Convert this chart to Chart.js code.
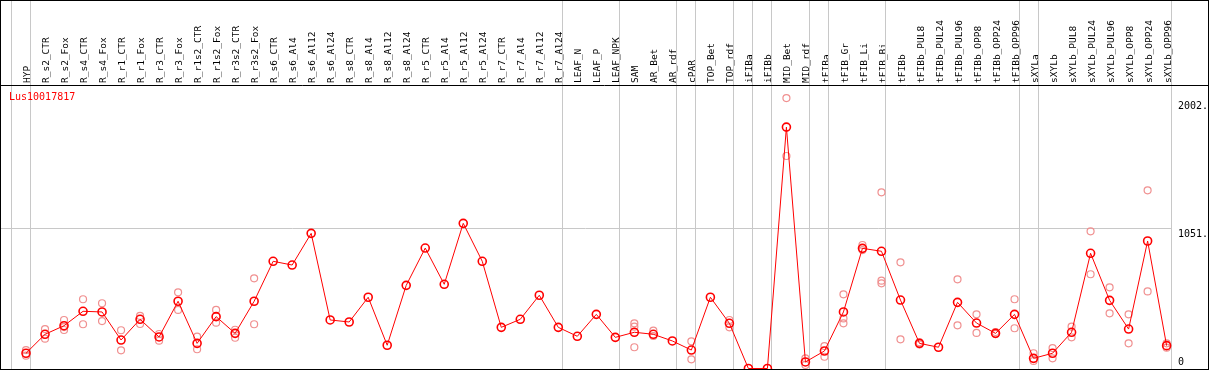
<!DOCTYPE html>
<html>
<head>
<meta charset="utf-8">
<script src="https://cdn.jsdelivr.net/npm/chart.js@4/dist/chart.umd.min.js"></script>
<style>
  html, body { margin: 0; padding: 0; background: #fff; }
  #wrap { width: 1209px; height: 370px; position: relative; }
</style>
</head>
<body>
<div id="wrap"><canvas id="myChart"></canvas></div>
<script>
  const geneName = 'Lus10017817';

  const categories = ['HYP', 'R_s2_CTR', 'R_s2_Fox', 'R_s4_CTR', 'R_s4_Fox', 'R_r1_CTR', 'R_r1_Fox',
    'R_r3_CTR', 'R_r3_Fox', 'R_r1s2_CTR', 'R_r1s2_Fox', 'R_r3s2_CTR', 'R_r3s2_Fox', 'R_s6_CTR',
    'R_s6_Al4', 'R_s6_Al12', 'R_s6_Al24', 'R_s8_CTR', 'R_s8_Al4', 'R_s8_Al12', 'R_s8_Al24',
    'R_r5_CTR', 'R_r5_Al4', 'R_r5_Al12', 'R_r5_Al24', 'R_r7_CTR', 'R_r7_Al4', 'R_r7_Al12', 'R_r7_Al24',
    'LEAF_N', 'LEAF_P', 'LEAF_NPK', 'SAM', 'AR_Bet', 'AR_rdf', 'cPAR', 'TOP_Bet', 'TOP_rdf',
    'iFIBa', 'iFIBb', 'MID_Bet', 'MID_rdf', 'tFIBa', 'tFIB_Gr', 'tFIB_Li', 'tFIB_Bi', 'tFIBb',
    'tFIBb_PUL8', 'tFIBb_PUL24', 'tFIBb_PUL96', 'tFIBb_OPP8', 'tFIBb_OPP24', 'tFIBb_OPP96',
    'sXYLa', 'sXYLb', 'sXYLb_PUL8', 'sXYLb_PUL24', 'sXYLb_PUL96', 'sXYLb_OPP8', 'sXYLb_OPP24', 'sXYLb_OPP96'];

  // mean expression per sample
  const means = [114, 256, 320, 428, 423, 213, 368, 236, 503, 188, 388, 263, 503, 802,
    774, 1011, 363, 348, 533, 174, 622, 901, 630, 1086, 802, 308, 368, 548, 308,
    241, 405, 233, 271, 256, 206, 138, 533, 338, 0, 0, 1806, 49, 131, 423, 899, 877, 512,
    188, 159, 495, 340, 263, 405, 76, 114, 271, 862, 510, 295, 954, 171];

  // replicates (null = hidden behind the mean marker)
  const repA = [138, 295, 363, 518, 488, 286, 393, 258, 570, 238, 438, 290, 675, null,
    null, null, null, null, null, null, null, null, null, null, null, null, null, null, null,
    null, null, null, 338, 283, null, 203, null, 363, null, null, 2023, 76, 168, 555, 924, 1318, 794,
    196, null, 667, 405, 273, 518, 114, 153, 313, 1026, 607, 405, 1333, 188];
  const repB = [96, 223, 288, 331, 355, 136, 333, 208, 438, 144, 343, 230, 331, null,
    null, null, null, null, null, null, null, null, null, null, null, null, null, null, null,
    null, null, null, 313, 243, null, 69, null, 308, null, null, 1590, 26, 88, 375, 886, 657, 218,
    180, null, 323, 266, 258, 301, 56, 76, 233, 705, 413, 188, 577, 156];
  const repC = [null, null, 310, null, null, null, null, null, null, null, null, null, null, null,
    null, null, null, null, null, null, null, null, null, null, null, null, null, null, null,
    null, null, null, 159, null, null, null, null, null, null, null, null, null, null, 338, null, 637, null,
    null, null, null, null, null, null, null, null, null, null, null, null, null, null];

  // last sample index of each group, -1 = left edge
  const groupEnds = [-1, 0, 28, 31, 34, 35, 37, 38, 39, 41, 42, 45, 52, 53, 60];
  const yTicks = [0, 1051, 2002];

  const font = 'DejaVu Sans Mono';

  const meanPoints = means.map((v, i) => ({ x: i, y: v }));
  const repPoints = [];
  [repA, repB, repC].forEach(arr => {
    arr.forEach((v, i) => { if (v !== null) repPoints.push({ x: i, y: v }); });
  });

  const framePlugin = {
    id: 'frame',
    beforeDatasetsDraw(chart) {
      const { ctx } = chart;
      const xs = chart.scales.x;
      ctx.save();
      ctx.strokeStyle = '#c8c8c8';
      ctx.lineWidth = 1;
      groupEnds.forEach(g => {
        const px = Math.round(xs.getPixelForValue(g + 0.21)) + 0.5;
        ctx.beginPath();
        ctx.moveTo(px, 0);
        ctx.lineTo(px, 370);
        ctx.stroke();
      });
      ctx.restore();
    },
    afterDraw(chart) {
      const { ctx } = chart;
      ctx.save();
      ctx.strokeStyle = '#000';
      ctx.lineWidth = 1;
      ctx.strokeRect(0.5, 0.5, 1208, 369);
      ctx.beginPath();
      ctx.moveTo(0, 85.5);
      ctx.lineTo(1209, 85.5);
      ctx.stroke();
      ctx.fillStyle = '#ff0000';
      ctx.font = '10px "' + font + '"';
      ctx.textBaseline = 'middle';
      ctx.fillText(geneName, 9, 97);
      ctx.restore();
    }
  };

  new Chart(document.getElementById('myChart'), {
    type: 'line',
    data: {
      datasets: [
        {
          label: 'mean',
          data: meanPoints,
          borderColor: '#ff0000',
          borderWidth: 1,
          pointRadius: 4,
          pointBorderWidth: 1.6,
          pointBorderColor: '#ff0000',
          pointBackgroundColor: 'rgba(255,255,255,0)',
          tension: 0,
          clip: false
        },
        {
          label: 'replicates',
          data: repPoints,
          showLine: false,
          pointRadius: 3.5,
          pointBorderWidth: 1.2,
          pointBorderColor: '#f09090',
          pointBackgroundColor: 'rgba(255,255,255,0)',
          clip: false
        }
      ]
    },
    options: {
      responsive: true,
      maintainAspectRatio: false,
      animation: false,
      layout: { autoPadding: false, padding: { left: 0, right: 0, top: 0, bottom: 1.5 } },
      plugins: { legend: { display: false }, tooltip: { enabled: false } },
      scales: {
        x: {
          type: 'linear',
          position: 'top',
          min: -1.368,
          max: 60.23,
          afterBuildTicks: s => { s.ticks = categories.map((c, i) => ({ value: i })); },
          afterFit: s => { s.height = 85; s.paddingLeft = 0; s.paddingRight = 0; },
          grid: { display: false, drawTicks: false },
          border: { display: false },
          ticks: {
            autoSkip: false,
            minRotation: 90,
            maxRotation: 90,
            padding: 2,
            labelOffset: 13,
            color: '#000',
            font: { family: font, size: 9.5 },
            callback: v => categories[v]
          }
        },
        y: {
          type: 'linear',
          position: 'right',
          min: 0,
          max: 2121,
          afterBuildTicks: s => { s.ticks = yTicks.map(v => ({ value: v })); },
          afterFit: s => { s.width = 38; s.paddingTop = 0; s.paddingBottom = 0; },
          grid: {
            drawTicks: false,
            color: c => (c.tick && c.tick.value === 1051) ? '#c8c8c8' : 'rgba(0,0,0,0)'
          },
          border: { display: false },
          ticks: {
            padding: 7,
            color: '#000',
            font: { family: font, size: 10 },
            callback: v => v === 0 ? ['0', ''] : ['', v + '.']
          }
        }
      }
    },
    plugins: [framePlugin]
  });
</script>
</body>
</html>
